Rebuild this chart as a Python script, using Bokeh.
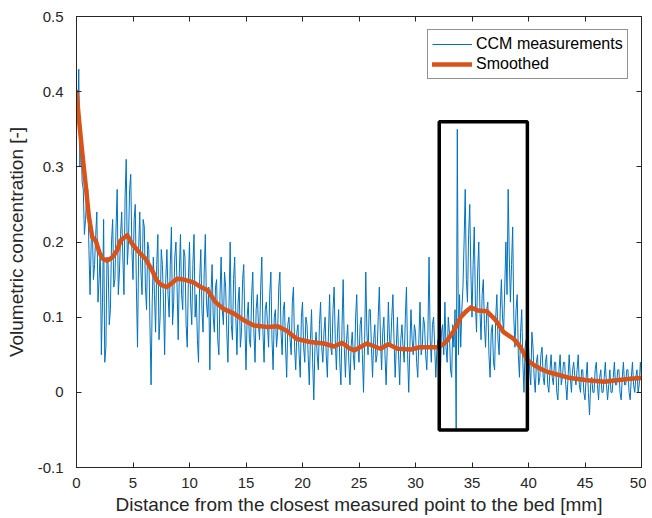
from bokeh.plotting import figure
from bokeh.models import (Range1d, LinearAxis, FixedTicker, CustomJSTickFormatter,
                          Legend, LegendItem)
from bokeh.embed import file_html
from bokeh.resources import INLINE

# ---------------- data ----------------
x_step = 0.1  # mm sampling of the raw measurement list
ccm_values = [
    0.40, 0.36, 0.43, 0.30, 0.34, 0.28, 0.27, 0.21, 0.23, 0.26, 0.27, 0.19, 0.13, 0.20, 0.22, 0.15, 0.17, 0.21, 0.24, 0.12,
    0.15, 0.19, 0.05, 0.12, 0.23, 0.04, 0.06, 0.18, 0.17, 0.09, 0.11, 0.20, 0.23, 0.14, 0.15, 0.22, 0.27, 0.13, 0.16, 0.21,
    0.24, 0.18, 0.13, 0.26, 0.31, 0.17, 0.20, 0.27, 0.29, 0.19, 0.15, 0.23, 0.25, 0.14, 0.06, 0.19, 0.24, 0.16, 0.13, 0.23,
    0.22, 0.14, 0.11, 0.20, 0.19, 0.09, 0.01, 0.12, 0.18, 0.13, 0.08, 0.17, 0.21, 0.07, 0.10, 0.19, 0.17, 0.12, 0.05, 0.15,
    0.19, 0.13, 0.10, 0.17, 0.22, 0.09, 0.12, 0.18, 0.20, 0.14, 0.07, 0.16, 0.21, 0.13, 0.11, 0.19, 0.18, 0.09, 0.06, 0.15,
    0.20, 0.12, 0.09, 0.17, 0.21, 0.10, 0.13, 0.07, 0.04, 0.15, 0.19, 0.11, 0.08, 0.16, 0.21, 0.12, 0.10, 0.14, 0.03, 0.13,
    0.17, 0.10, 0.08, 0.14, 0.15, 0.07, 0.05, 0.13, 0.18, 0.11, 0.09, 0.16, 0.14, 0.08, 0.04, 0.12, 0.20, 0.09, 0.07, 0.15,
    0.18, 0.10, 0.05, 0.12, 0.14, 0.06, 0.08, 0.15, 0.17, 0.09, 0.03, 0.10, 0.12, 0.07, 0.06, 0.13, 0.16, 0.08, 0.04, 0.11,
    0.13, 0.09, 0.07, 0.14, 0.18, 0.08, 0.04, 0.11, 0.12, 0.09, 0.06, 0.13, 0.16, 0.07, 0.03, 0.10, 0.11, 0.06, 0.08, 0.14,
    0.16, 0.08, 0.05, 0.11, 0.12, 0.06, 0.02, 0.09, 0.10, 0.07, 0.05, 0.12, 0.14, 0.06, 0.03, 0.08, 0.09, 0.05, 0.02, 0.10,
    0.12, 0.06, 0.04, 0.10, 0.09, 0.05, 0.01, 0.07, 0.11, 0.04, -0.01, 0.06, 0.08, 0.05, 0.03, 0.09, 0.12, 0.06, 0.04, 0.08,
    0.10, 0.05, 0.02, 0.08, 0.13, 0.06, 0.05, 0.11, 0.14, 0.07, 0.03, 0.08, 0.11, 0.04, 0.01, 0.09, 0.15, 0.06, 0.02, 0.07,
    0.09, 0.04, 0.01, 0.06, 0.08, 0.05, 0.03, 0.10, 0.13, 0.06, 0.04, 0.09, 0.10, 0.05, 0.00, 0.07, 0.16, 0.08, 0.05, 0.11,
    0.11, 0.06, 0.02, 0.07, 0.09, 0.04, 0.05, 0.10, 0.14, 0.07, 0.03, 0.08, 0.10, 0.05, 0.01, 0.06, 0.12, 0.07, 0.06, 0.10,
    0.13, 0.07, 0.02, 0.06, 0.10, 0.05, 0.01, 0.07, 0.09, 0.06, 0.04, 0.10, 0.14, 0.05, 0.00, 0.06, 0.11, 0.07, 0.05, 0.09,
    0.08, 0.04, 0.02, 0.07, 0.12, 0.05, 0.06, 0.10, 0.09, 0.05, 0.03, 0.08, 0.18, 0.07, 0.04, 0.09, 0.10, 0.06, 0.02, 0.06,
    0.07, 0.04, 0.02, 0.08, 0.09, 0.05, 0.12, 0.06, 0.04, 0.10, 0.08, 0.03, 0.02, 0.09, 0.06, 0.11, -0.05, 0.35, 0.05, 0.13,
    0.06, 0.11, 0.14, 0.20, 0.27, 0.15, 0.12, 0.21, 0.25, 0.16, 0.10, 0.17, 0.22, 0.12, 0.08, 0.16, 0.20, 0.11, 0.07, 0.13,
    0.15, 0.09, 0.06, 0.11, 0.12, 0.05, 0.02, 0.08, 0.09, 0.04, 0.03, 0.10, 0.13, 0.07, 0.05, 0.11, 0.15, 0.10, 0.08, 0.14,
    0.20, 0.13, 0.27, 0.18, 0.12, 0.17, 0.22, 0.10, 0.06, 0.11, 0.13, 0.05, 0.02, 0.08, 0.11, 0.04, 0.00, 0.06, 0.07, 0.02,
    0.06, 0.03, 0.01, 0.08, 0.06, 0.02, 0.00, 0.04, 0.05, 0.01, 0.02, 0.05, 0.06, 0.02, 0.01, 0.04, 0.05, 0.01, 0.00, 0.03,
    0.05, 0.02, 0.01, 0.04, 0.04, 0.00, -0.01, 0.03, 0.05, 0.01, 0.02, 0.04, 0.04, 0.01, -0.01, 0.02, 0.05, 0.02, 0.00, 0.03,
    0.04, 0.02, 0.01, 0.03, 0.05, 0.01, 0.00, 0.03, 0.03, 0.00, -0.01, 0.02, 0.04, 0.00, -0.03, 0.01, 0.02, 0.00, 0.00, 0.03,
    0.04, 0.01, -0.01, 0.02, 0.03, 0.00, 0.00, 0.02, 0.04, 0.01, -0.01, 0.01, 0.03, 0.00, 0.00, 0.02, 0.04, 0.01, 0.01, 0.03,
    0.03, 0.00, -0.01, 0.02, 0.04, 0.01, 0.01, 0.03, 0.03, 0.00, -0.01, 0.02, 0.04, 0.01, 0.00, 0.02, 0.03, 0.00, 0.01, 0.04,
    0.02,
]
ccm_distance = [round(i * x_step, 2) for i in range(len(ccm_values))]

smooth_distance = [0, 0.2, 0.5, 0.8, 1.1, 1.4, 1.7, 2.0, 2.3, 2.7, 3.2, 3.6, 3.9,
                   4.5, 4.9, 5.5, 6.1, 6.7, 7.1, 7.5, 8.0, 8.5, 8.9, 9.5, 10.0,
                   10.4, 11.0, 11.6, 12.3, 13.0, 13.9, 14.8, 15.7, 16.9, 17.8,
                   18.6, 19.5, 20.7, 21.9, 22.8, 23.5, 24.2, 24.6, 25.7, 26.9,
                   27.6, 28.4, 29.6, 30.4, 31.3, 31.9, 32.4, 32.8, 33.4, 34.0,
                   34.5, 34.9, 35.5, 36.3, 37.1, 37.8, 38.7, 39.3, 39.9, 40.5,
                   41.1, 41.7, 42.2, 43.7, 45.2, 46.7, 47.8, 49.0, 50.0]
smooth_values = [0.40, 0.366, 0.32, 0.278, 0.233, 0.206, 0.202, 0.187, 0.178,
                 0.175, 0.18, 0.189, 0.202, 0.209, 0.198, 0.187, 0.178, 0.162,
                 0.149, 0.143, 0.14, 0.146, 0.151, 0.150, 0.148, 0.146, 0.14,
                 0.136, 0.12, 0.111, 0.105, 0.096, 0.089, 0.087, 0.088, 0.082,
                 0.071, 0.067, 0.065, 0.061, 0.066, 0.058, 0.056, 0.065, 0.058,
                 0.064, 0.058, 0.057, 0.06, 0.06, 0.06, 0.063, 0.069, 0.082,
                 0.1, 0.108, 0.113, 0.109, 0.108, 0.096, 0.08, 0.071, 0.06,
                 0.043, 0.036, 0.031, 0.027, 0.025, 0.019, 0.016, 0.014,
                 0.016, 0.018, 0.019]

box_distance = [32.1, 39.9]
box_conc = [-0.05, 0.36]

x_ticks = [0, 5, 10, 15, 20, 25, 30, 35, 40, 45, 50]
y_ticks = [-0.1, 0, 0.1, 0.2, 0.3, 0.4, 0.5]

# ---------------- figure ----------------
FONT = "Liberation Sans"
TXT = "#262626"

p = figure(width=646, height=517, output_backend="svg", toolbar_location=None,
           x_range=Range1d(0, 50), y_range=Range1d(-0.1, 0.5),
           min_border_left=76, min_border_right=5, min_border_top=16,
           min_border_bottom=10, x_axis_location=None, y_axis_location=None)
p.xgrid.visible = False
p.ygrid.visible = False
p.outline_line_color = TXT
p.outline_line_width = 1
p.background_fill_color = "white"
p.border_fill_color = "white"

fmt = CustomJSTickFormatter(code="return String(Number(tick.toFixed(2)));")


def style_axis(ax, show_labels):
    ax.axis_line_color = TXT
    ax.axis_line_width = 1
    ax.major_tick_line_color = TXT
    ax.major_tick_in = 5
    ax.major_tick_out = 0
    ax.minor_tick_line_color = None
    ax.formatter = fmt
    if show_labels:
        ax.major_label_text_font = FONT
        ax.major_label_text_font_size = "15px"
        ax.major_label_text_color = TXT
        ax.axis_label_text_font = FONT
        ax.axis_label_text_font_size = "19px"
        ax.axis_label_text_font_style = "normal"
        ax.axis_label_text_color = TXT
    else:
        ax.major_label_text_font_size = "0px"
        ax.major_label_standoff = 0


xb = LinearAxis(ticker=FixedTicker(ticks=x_ticks),
                axis_label="Distance from the closest measured point to the bed [mm]")
style_axis(xb, True)
xb.major_label_standoff = 10
xb.axis_label_standoff = 3
p.add_layout(xb, "below")

yl = LinearAxis(ticker=FixedTicker(ticks=y_ticks),
                axis_label="Volumetric concentration [-]")
style_axis(yl, True)
yl.major_label_standoff = 13
yl.axis_label_standoff = 8
p.add_layout(yl, "left")

xt = LinearAxis(ticker=FixedTicker(ticks=x_ticks))
style_axis(xt, False)
p.add_layout(xt, "above")
yr = LinearAxis(ticker=FixedTicker(ticks=y_ticks))
style_axis(yr, False)
p.add_layout(yr, "right")

raw = p.line(ccm_distance, ccm_values, line_color="#0072BD", line_width=1)
sm = p.line(smooth_distance, smooth_values, line_color="#D95319", line_width=4.5,
            line_join="round", line_cap="round")
p.quad(left=[box_distance[0]], right=[box_distance[1]],
       bottom=[box_conc[0]], top=[box_conc[1]],
       fill_color=None, line_color="black", line_width=3.5)

legend = Legend(items=[LegendItem(label="CCM measurements", renderers=[raw]),
                       LegendItem(label="Smoothed", renderers=[sm])],
                location=(351, 388))
legend.label_text_font = FONT
legend.label_text_font_size = "16px"
legend.label_text_color = "black"
legend.glyph_width = 40
legend.glyph_height = 20
legend.label_height = 20
legend.label_standoff = 4
legend.spacing = 0
legend.padding = 4
legend.margin = 0
legend.border_line_color = TXT
legend.border_line_width = 1
legend.background_fill_color = "white"
legend.background_fill_alpha = 1
p.add_layout(legend, "center")

open("out.html", "w").write(file_html(p, INLINE))
